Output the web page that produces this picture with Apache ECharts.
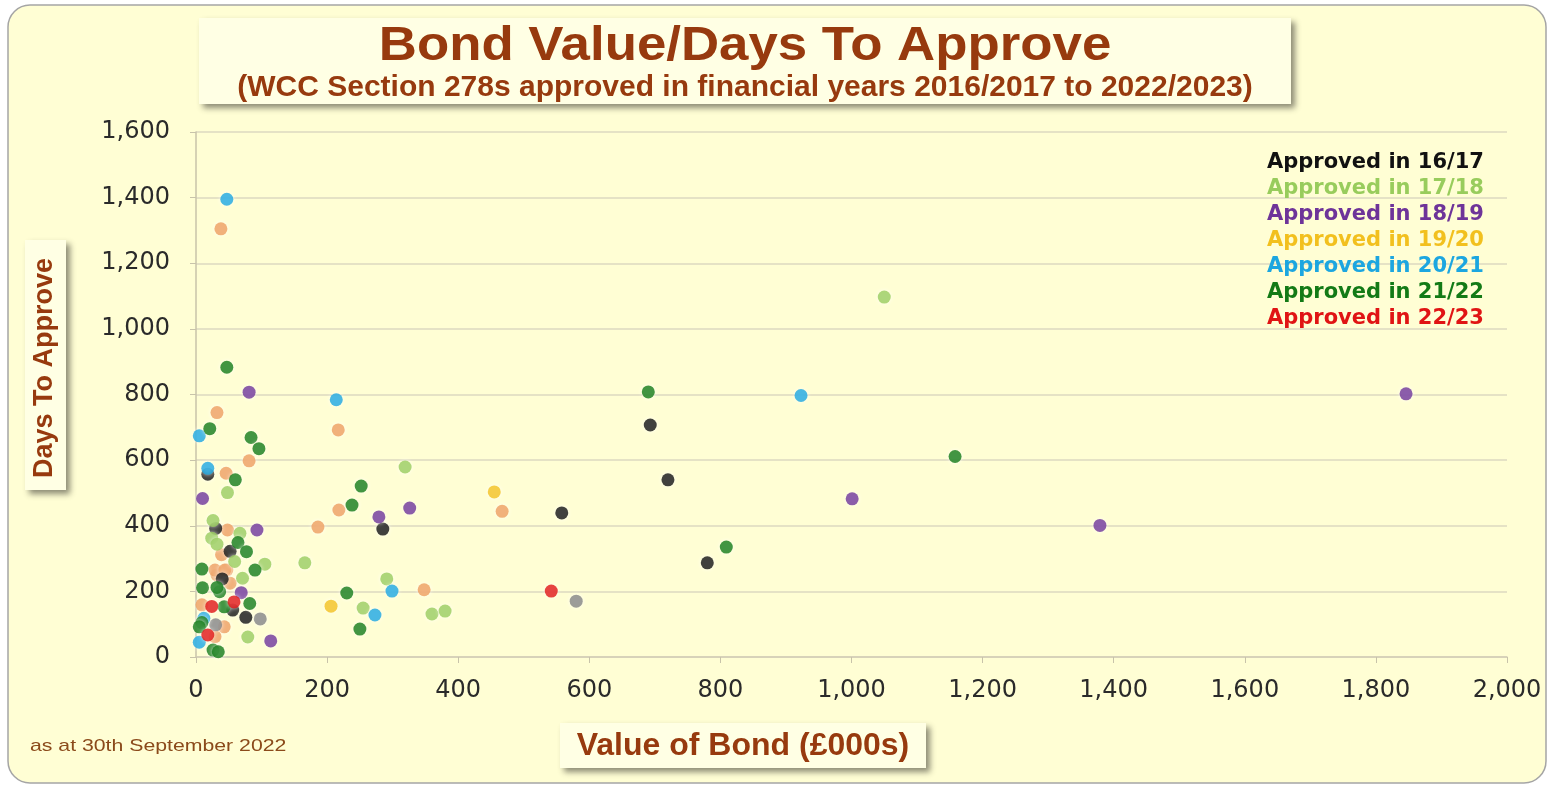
<!DOCTYPE html>
<html>
<head>
<meta charset="utf-8">
<script src="https://cdn.jsdelivr.net/npm/echarts@6/dist/echarts.min.js"></script>
<style>
html,body{margin:0;padding:0;background:#fff;}
#chart{width:1550px;height:787px;}
</style>
</head>
<body>
<div id="chart"></div>
<script>
// ---- Data (x = Value of Bond £000s, y = Days To Approve) ----
const xTicks = [0, 200, 400, 600, 800, 1000, 1200, 1400, 1600, 1800, 2000];
const yTicks = [0, 200, 400, 600, 800, 1000, 1200, 1400, 1600];

const legendNames = ['Approved in 16/17','Approved in 17/18','Approved in 18/19','Approved in 19/20','Approved in 20/21','Approved in 21/22','Approved in 22/23'];

const approved1617 = [[693,707],[720,540],[780,287],[558,439],[285,390],[18,557],[30,392],[52,322],[40,238],[56,143],[76,121]];
const approved1718 = [[1050,1097],[319,579],[166,287],[291,238],[255,149],[360,131],[380,140],[48,501],[26,416],[67,377],[24,362],[32,344],[59,291],[105,283],[71,240],[79,61]];
const approved1819 = [[1846,802],[1001,482],[1379,401],[81,807],[10,483],[93,387],[279,427],[326,454],[69,196],[114,49]];
const approved1920 = [[455,503],[206,155]];
const approved2021 = [[47,1395],[923,797],[214,784],[5,674],[18,575],[299,201],[273,128],[12,118],[5,45]];
const approved2122 = [[690,808],[1158,611],[809,335],[252,521],[238,463],[230,195],[250,85],[47,883],[21,696],[84,669],[96,635],[60,540],[64,349],[77,321],[9,268],[90,265],[10,211],[36,199],[43,153],[82,163],[9,105],[5,92],[26,21],[34,16],[32,212]];
const approved2223 = [[542,201],[24,154],[58,168],[18,67]];
const otherOrange = [[38,1305],[217,692],[218,448],[186,396],[467,444],[348,205],[32,745],[81,598],[46,560],[48,387],[39,312],[47,265],[32,250],[52,225],[9,159],[43,92],[29,62],[29,265],[44,265]];
const otherGrey = [[580,170],[98,116],[30,98]];

const colors = ['#111111','#98CC5C','#6E3499','#F2C01E','#1CA6E0','#137A16','#E01414'];
const seriesData = [approved1617, approved1718, approved1819, approved1920, approved2021, approved2122, approved2223];

const brown = '#973A0E';
const fmt = v => v.toLocaleString('en-US');

const series = [
  {name:'Other (orange)', data: otherOrange, color:'#EE9E5E'},
  {name:'Other (grey)', data: otherGrey, color:'#838383'}
].concat(legendNames.map((n,i)=>({name:n, data: seriesData[i], color: colors[i]})))
.map(s => ({
  type:'scatter', name:s.name, data:s.data, symbolSize:13,
  itemStyle:{color:s.color, shadowColor:'rgba(255,255,255,0.9)', shadowBlur:4}
}));

const boxStyle = {fill:'#FFFFE4', shadowBlur:6, shadowOffsetX:4, shadowOffsetY:4, shadowColor:'rgba(0,0,0,0.45)'};
const txt = (text, size, extra) => Object.assign({text:text, fontFamily:'Liberation Sans', fontSize:size, fontWeight:'bold', fill:brown, align:'center', verticalAlign:'middle'}, extra||{});

const chart = echarts.init(document.getElementById('chart'));
chart.setOption({
  backgroundColor:'#ffffff',
  animation:false,
  grid:{left:196, right:43, top:132, bottom:130},
  xAxis:{
    type:'value', min:xTicks[0], max:xTicks[xTicks.length-1], interval:200,
    axisLine:{show:true, lineStyle:{color:'#D2CDB5', width:1.5}},
    axisTick:{show:true, length:6, lineStyle:{color:'#C8C3AA'}},
    splitLine:{show:false},
    axisLabel:{color:'#2a2a2a', fontSize:24, fontFamily:'DejaVu Sans', margin:22, formatter:fmt}
  },
  yAxis:{
    type:'value', min:yTicks[0], max:yTicks[yTicks.length-1], interval:200,
    axisLine:{show:true, lineStyle:{color:'#C8C3AA', width:1.5}},
    axisTick:{show:true, length:6, lineStyle:{color:'#C8C3AA'}},
    splitLine:{show:true, lineStyle:{color:'#DCD8C0', width:1.5}},
    axisLabel:{color:'#2a2a2a', fontSize:24, fontFamily:'DejaVu Sans', margin:26, formatter:fmt}
  },
  legend:{
    data: legendNames.map((n,i)=>({name:n, textStyle:{color:colors[i]}})),
    orient:'vertical', left:1257, top:147, icon:'none', itemWidth:0, itemHeight:14, itemGap:5,
    selectedMode:false,
    textStyle:{fontSize:21, fontWeight:'bold', fontFamily:'DejaVu Sans', padding:0}
  },
  graphic:[
    {type:'rect', z:-100, shape:{x:8,y:5,width:1538,height:778,r:22}, style:{fill:'#FFFED4', stroke:'#A5A5A5', lineWidth:1.5}},
    {type:'rect', z:10, shape:{x:199,y:18,width:1092,height:86}, style:boxStyle},
    {type:'text', z:11, x:745, y:47, scaleX:1.1, style:txt('Bond Value/Days To Approve', 48)},
    {type:'text', z:11, x:745, y:88, style:txt('(WCC Section 278s approved in financial years 2016/2017 to 2022/2023)', 30)},
    {type:'rect', z:10, shape:{x:25,y:240,width:41,height:250}, style:boxStyle},
    {type:'text', z:11, x:45, y:368, rotation:Math.PI/2, style:txt('Days To Approve', 27)},
    {type:'rect', z:10, shape:{x:560,y:723,width:366,height:45}, style:boxStyle},
    {type:'text', z:11, x:743, y:746, style:txt('Value of Bond (£000s)', 32)},
    {type:'text', z:11, x:30, y:746, scaleX:1.25, style:txt('as at 30th September 2022', 17, {fontWeight:'normal', fill:'#8B4A1A', align:'left'})}
  ],
  series: series
});
</script>
</body>
</html>
